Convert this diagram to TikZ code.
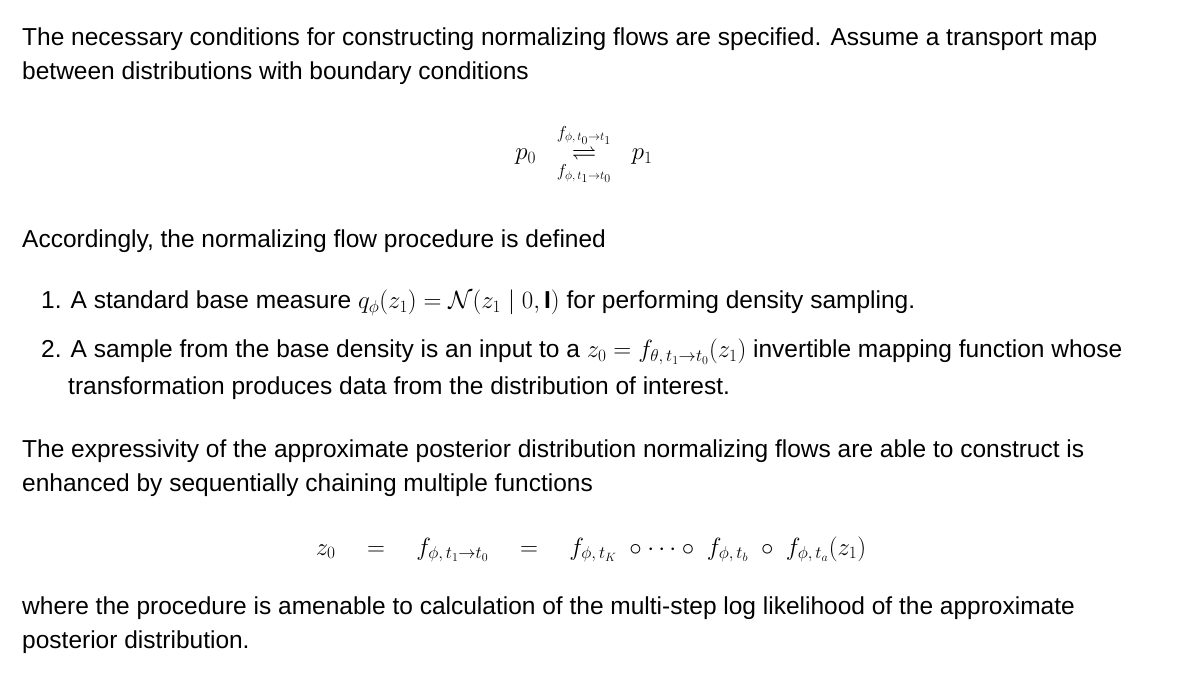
\documentclass[tikz,border=0pt]{standalone}
\usepackage{amsmath,amssymb}
\usepackage{fontspec}
\setmainfont{Liberation Sans}
\begin{document}
\begin{tikzpicture}[x=1pt,y=1pt,
  txt/.style={anchor=base west,inner sep=0pt,font=\fontsize{24.5}{29}\selectfont},
  eq/.style={anchor=base,inner sep=0pt,font=\fontsize{24.5}{29}\selectfont}]
\useasboundingbox (0,0) rectangle (1200,673);
\node[txt] (l1) at (22,627) {The necessary conditions for constructing normalizing flows are specified. Assume a transport map};
\node[txt] (l2) at (22,593) {between distributions with boundary conditions};
\node[eq] (m1) at (584,513) {$p_0 \;\;\underset{f_{\phi,\,t_1\to t_0}}{\overset{f_{\phi,\,t_0\to t_1}}{\rightleftharpoons}}\;\; p_1$};
\node[txt] (l3) at (22,425) {Accordingly, the normalizing flow procedure is defined};
\node[txt] (l4) at (22,364) {\hspace*{19pt}1. A standard base measure $q_\phi(z_1) = \mathcal{N}(z_1 \mid 0, \mathbf{I})$ for performing density sampling.};
\node[txt] (l5) at (22,315) {\hspace*{19pt}2. A sample from the base density is an input to a $z_0 = f_{\theta,\,t_1\to t_0}(z_1)$ invertible mapping function whose};
\node[txt] (l6) at (68,278) {transformation produces data from the distribution of interest.};
\node[txt] (l7) at (22,216) {The expressivity of the approximate posterior distribution normalizing flows are able to construct is};
\node[txt] (l8) at (22,182) {enhanced by sequentially chaining multiple functions};
\node[eq] (m2) at (591,118) {$z_0 \quad=\quad f_{\phi,\,t_1\to t_0} \quad=\quad f_{\phi,\,t_K} \;\circ \cdots \circ\; f_{\phi,\,t_b} \;\circ\; f_{\phi,\,t_a}(z_1)$};
\node[txt] (l9) at (22,59) {where the procedure is amenable to calculation of the multi-step log likelihood of the approximate};
\node[txt] (l10) at (22,25) {posterior distribution.};
\end{tikzpicture}
\end{document}
